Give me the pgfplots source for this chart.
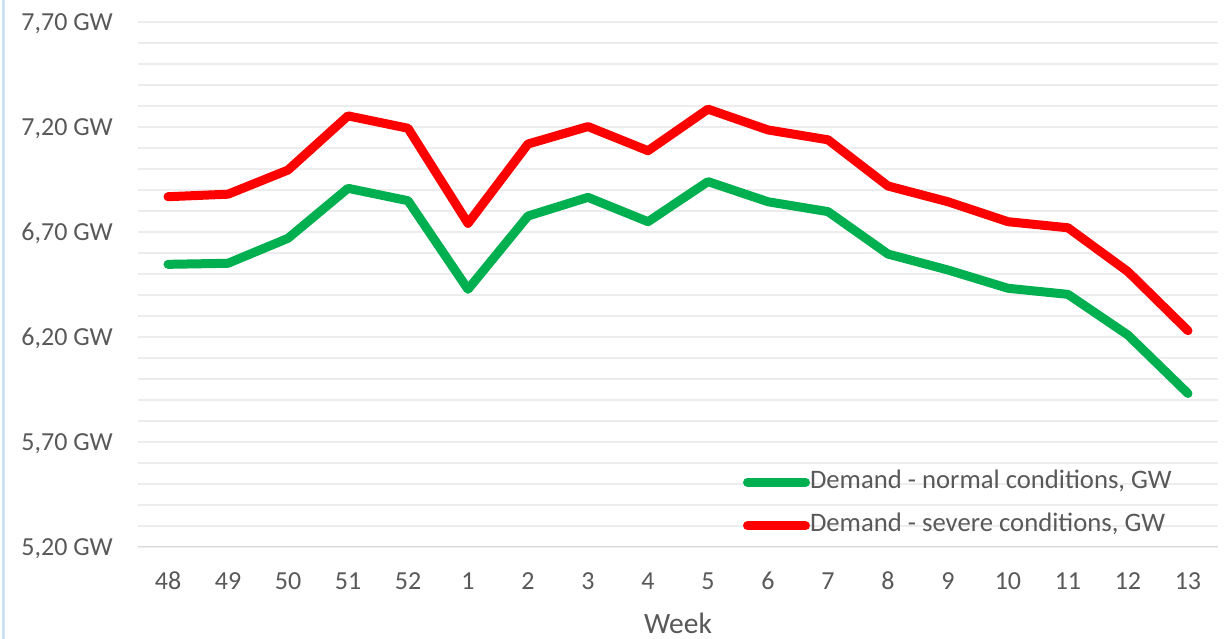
\documentclass[border=0pt]{standalone}
\usepackage{pgfplots}
\pgfplotsset{compat=1.18}
\usepackage{fontspec}
\setmainfont{Carlito}
\definecolor{txt}{HTML}{595959}
\definecolor{gridc}{HTML}{EDEDED}
\definecolor{axc}{HTML}{D9D9D9}
\definecolor{gr}{HTML}{00B050}
\definecolor{rd}{HTML}{FF0000}
\definecolor{edge}{HTML}{CFE2F3}
\begin{document}
\begin{tikzpicture}
\useasboundingbox (-138pt,-92pt) rectangle (1089pt,547pt);
\fill[white] (-138pt,-92pt) rectangle (1089pt,547pt);
\fill[edge] (-136pt,-92pt) rectangle (-133pt,547pt);
\begin{axis}[
  scale only axis, width=1080pt, height=525pt,
  xmin=-0.5, xmax=17.5, ymin=5.2, ymax=7.7,
  axis line style={draw=none},
  tick style={draw=none},
  xtick={0,...,17},
  xticklabels={48,49,50,51,52,1,2,3,4,5,6,7,8,9,10,11,12,13},
  ytick={5.2,5.7,6.2,6.7,7.2,7.7},
  yticklabels={{5,20 GW},{5,70 GW},{6,20 GW},{6,70 GW},{7,20 GW},{7,70 GW}},
  minor ytick={5.3,5.4,5.5,5.6,5.8,5.9,6.0,6.1,6.3,6.4,6.5,6.6,6.8,6.9,7.0,7.1,7.3,7.4,7.5,7.6},
  ymajorgrids, yminorgrids,
  major grid style={gridc, line width=1.2pt},
  minor grid style={gridc, line width=1.2pt},
  ticklabel style={font=\fontsize{26}{31}\selectfont, text=txt, inner sep=0pt},
  xticklabel style={anchor=base, yshift=-43pt},
  yticklabel style={anchor=base east, xshift=-25pt, yshift=-9pt},
  xlabel={Week},
  xlabel style={at={(rel axis cs:0.5,0)}, anchor=base, yshift=-87pt, inner sep=0pt, font=\fontsize{29.5}{35}\selectfont, text=txt},
  legend style={draw=none, fill=none, inner sep=0pt, outer sep=0pt,
    at={(axis description cs:0.5602,0.1461)}, anchor=north west,
    row sep=19.4pt,
    font=\fontsize{26.7}{32}\selectfont, text=txt,
    nodes={inner sep=0pt, text height=18pt, text depth=6pt},
    /tikz/every even column/.append style={column sep=0pt}},
  legend cell align=left,
  legend image code/.code={\path (0pt,0pt) -- (58pt,0pt); \draw[#1, line width=9pt, line cap=round] (4.5pt,0pt) -- (51.5pt,0pt);},
  every axis plot/.append style={line width=9pt, line join=round, line cap=round, mark=none},
]
\draw[axc, line width=1.5pt] (rel axis cs:0,0) -- (rel axis cs:1,0);
\addplot[gr] coordinates {
(0,6.546) (1,6.551) (2,6.670) (3,6.908) (4,6.849) (5,6.427) (6,6.776) (7,6.865) (8,6.749)
(9,6.940) (10,6.844) (11,6.797) (12,6.595) (13,6.519) (14,6.432) (15,6.403) (16,6.209) (17,5.931)};
\addlegendentry{Demand - normal conditions, GW}
\addplot[rd] coordinates {
(0,6.868) (1,6.880) (2,6.995) (3,7.253) (4,7.194) (5,6.741) (6,7.119) (7,7.202) (8,7.087)
(9,7.285) (10,7.186) (11,7.139) (12,6.919) (13,6.844) (14,6.749) (15,6.720) (16,6.511) (17,6.230)};
\addlegendentry{Demand - severe conditions, GW}
\end{axis}
\end{tikzpicture}
\end{document}
